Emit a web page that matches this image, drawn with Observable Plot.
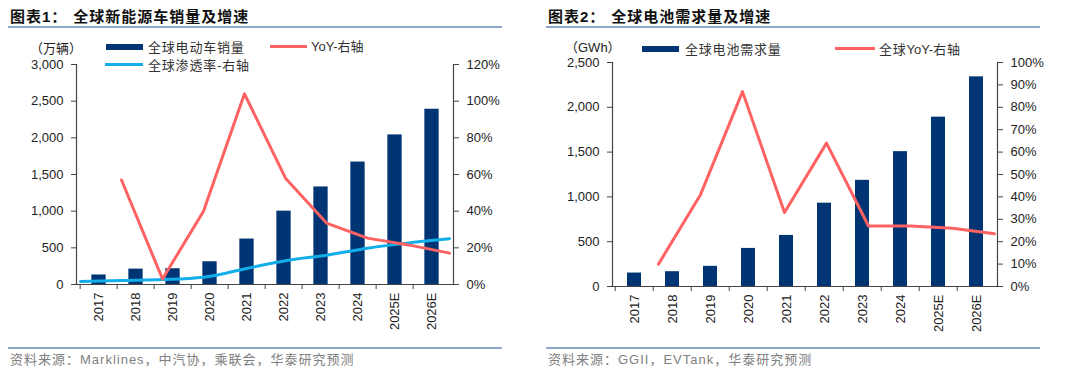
<!DOCTYPE html>
<html>
<head>
<meta charset="utf-8">
<script src="https://cdn.jsdelivr.net/npm/d3@7"></script>
<script src="https://cdn.jsdelivr.net/npm/@observablehq/plot@0.6"></script>
<style>
  html, body { margin: 0; padding: 0; background: #fff; }
  body { width: 1080px; height: 384px; position: relative; overflow: hidden;
         font-family: "Liberation Sans", Arial, "Noto Sans CJK SC", sans-serif; color: #222; }
  .panel { position: absolute; top: 0; width: 540px; height: 384px; }
  .title { position: absolute; top: 7px; font-family: "Liberation Sans", "Noto Sans CJK SC", sans-serif;
           font-weight: bold; font-size: 15px; letter-spacing: 1px; color: #111; white-space: nowrap; line-height: 20px; }
  .title .gap { display: inline-block; width: 6px; }
  .rule { position: absolute; height: 2px; background: #8ea6c9; }
  .src { position: absolute; top: 352px; font-size: 13px; color: #808080; letter-spacing: 1px; white-space: nowrap;
         font-family: "Liberation Sans", "Noto Sans CJK SC", sans-serif; line-height: 16px; }
  .lg { position: absolute; font-size: 13px; letter-spacing: 0.8px; white-space: nowrap; color: #333;
        font-family: "Noto Sans CJK SC", sans-serif; line-height: 15px; }
  .sw { position: absolute; }
  .unit { position: absolute; font-size: 13px; color: #222; white-space: nowrap; line-height: 15px;
          font-family: "Liberation Sans", "Noto Sans CJK SC", sans-serif; }
  .plot { position: absolute; top: 40px; left: 0; }
</style>
</head>
<body>
<div class="panel" id="p1" style="left:0">
  <div class="title" style="left:10px">图表1：<span class="gap"></span>全球新能源车销量及增速</div>
  <div class="rule" style="left:8px; width:494px; top:26px"></div>
  <div class="unit" style="left:30px; top:41px">（万辆）</div>
  <div class="sw" style="left:106px; top:44px; width:37px; height:6px; background:#003473"></div>
  <div class="lg" style="left:148px; top:39px">全球电动车销量</div>
  <div class="sw" style="left:270px; top:45px; width:37px; height:3px; background:#ff6262"></div>
  <div class="lg" style="left:311px; top:39px; font-family:'Liberation Sans','Noto Sans CJK SC',sans-serif; letter-spacing:0">YoY-右轴</div>
  <div class="sw" style="left:105px; top:63px; width:38px; height:3px; background:#12aee9"></div>
  <div class="lg" style="left:148px; top:57px">全球渗透率-右轴</div>
  <div class="plot" id="c1a"></div>
  <div class="plot" id="c1b"></div>
  <div class="rule" style="left:8px; width:494px; top:347px"></div>
  <div class="src" style="left:10px">资料来源：Marklines，中汽协，乘联会，华泰研究预测</div>
</div>
<div class="panel" id="p2" style="left:540px">
  <div class="title" style="left:8px">图表2：<span class="gap"></span>全球电池需求量及增速</div>
  <div class="rule" style="left:6px; width:494px; top:26px"></div>
  <div class="unit" style="left:25px; top:40px">（GWh）</div>
  <div class="sw" style="left:102px; top:46px; width:37px; height:6px; background:#003473"></div>
  <div class="lg" style="left:145px; top:41px">全球电池需求量</div>
  <div class="sw" style="left:295px; top:47px; width:40px; height:3px; background:#ff6262"></div>
  <div class="lg" style="left:339px; top:41px">全球<span style="font-family:'Liberation Sans',sans-serif;letter-spacing:0">YoY-</span>右轴</div>
  <div class="plot" id="c2a"></div>
  <div class="plot" id="c2b"></div>
  <div class="rule" style="left:6px; width:494px; top:347px"></div>
  <div class="src" style="left:8px">资料来源：GGII，EVTank，华泰研究预测</div>
</div>
<script>
// ---------- data ----------
const years = ["2017","2018","2019","2020","2021","2022","2023","2024","2025E","2026E"];
const evSales = [130, 210, 215, 310, 620, 1000, 1330, 1670, 2040, 2390];           // 万辆
const evYoY   = [null, 0.57, 0.03, 0.40, 1.04, 0.58, 0.335, 0.253, 0.216, 0.171];
const evPen   = [0.016, 0.022, 0.027, 0.040, 0.085, 0.130, 0.160, 0.198, 0.227, 0.250];
const batDemand = [150, 165, 225, 425, 570, 930, 1185, 1505, 1890, 2340];          // GWh
const batYoY    = [null, 0.10, 0.41, 0.87, 0.33, 0.64, 0.27, 0.27, 0.26, 0.235];
const leftTicks1  = [0, 500, 1000, 1500, 2000, 2500, 3000];
const rightTicks1 = [0, 0.2, 0.4, 0.6, 0.8, 1.0, 1.2];
const leftTicks2  = [0, 500, 1000, 1500, 2000, 2500];
const rightTicks2 = [0, 0.1, 0.2, 0.3, 0.4, 0.5, 0.6, 0.7, 0.8, 0.9, 1.0];

const NAVY = "#003473", RED = "#ff6262", CYAN = "#12aee9", AXIS = "#444";
const pct = d => Math.round(d * 100) + "%";
const fmt = d3.format(",");

function rows(vals) { return years.map((y, i) => ({year: y, v: vals[i]})).filter(d => d.v != null); }

function build(cfg) {
  const W = 540, H = 300;
  const step = (W - cfg.ml - cfg.mr) / years.length;
  const inset = (step - cfg.barW) / 2;
  const style = {fontFamily: "'Liberation Sans', Arial, sans-serif", fontSize: "13px", color: "#222", background: "transparent", overflow: "visible"};
  const bars = Plot.plot({
    width: W, height: H,
    marginLeft: cfg.ml, marginRight: cfg.mr, marginTop: cfg.mt, marginBottom: H - cfg.mt - cfg.ph,
    style,
    x: {domain: years, padding: 0},
    y: {domain: [0, cfg.leftMax]},
    marks: [
      Plot.barY(rows(cfg.bars), {x: "year", y: "v", fill: NAVY, insetLeft: inset, insetRight: inset}),
      Plot.ruleY([0], {stroke: AXIS, strokeWidth: 1.2}),
      Plot.frame({anchor: "left", stroke: AXIS, strokeWidth: 1.2}),
      Plot.axisY({anchor: "left", ticks: cfg.leftTicks, tickFormat: fmt, tickSize: 5, tickPadding: 8, label: null, stroke: AXIS}),
      Plot.axisX({anchor: "bottom", text: null, tickSize: 5, dx: -step / 2, stroke: AXIS, label: null}),
      Plot.axisX({anchor: "bottom", tickSize: 0, tickRotate: -90, tickPadding: 8, label: null})
    ]
  });
  const lines = Plot.plot({
    width: W, height: H,
    marginLeft: cfg.ml, marginRight: cfg.mr, marginTop: cfg.mt, marginBottom: H - cfg.mt - cfg.ph,
    style,
    x: {domain: years, padding: 0, axis: null},
    y: {domain: [0, cfg.rightMax]},
    marks: [
      Plot.frame({anchor: "right", stroke: AXIS, strokeWidth: 1.2}),
      Plot.axisY({anchor: "right", ticks: cfg.rightTicks, tickFormat: pct, tickSize: 5, tickPadding: 8, label: null, stroke: AXIS}),
      ...cfg.lines.map(l => Plot.line(rows(l.vals), {x: "year", y: "v", stroke: l.color, strokeWidth: 3, curve: l.curve || "linear"}))
    ]
  });
  document.getElementById(cfg.idA).appendChild(bars);
  document.getElementById(cfg.idB).appendChild(lines);
}

build({idA: "c1a", idB: "c1b", ml: 76, mr: 87, mt: 24, ph: 220, barW: 15,
       leftMax: 3000, rightMax: 1.2, leftTicks: leftTicks1, rightTicks: rightTicks1,
       bars: evSales,
       lines: [{vals: evPen, color: CYAN, curve: "monotone-x"}, {vals: evYoY, color: RED}]});
build({idA: "c2a", idB: "c2b", ml: 72, mr: 83, mt: 22, ph: 224, barW: 14.5,
       leftMax: 2500, rightMax: 1.0, leftTicks: leftTicks2, rightTicks: rightTicks2,
       bars: batDemand,
       lines: [{vals: batYoY, color: RED}]});
</script>
</body>
</html>
